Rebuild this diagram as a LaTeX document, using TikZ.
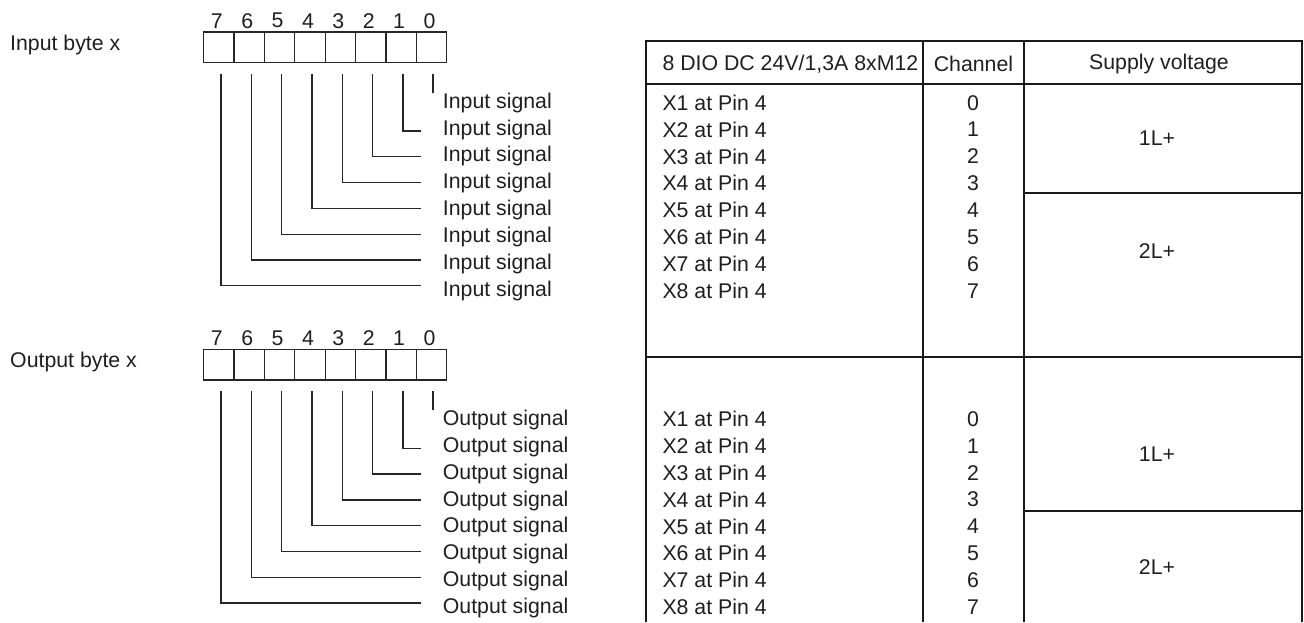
\documentclass[tikz,border=0pt]{standalone}
\usepackage{fontspec}
\setmainfont{Liberation Sans}
\begin{document}
\begin{tikzpicture}[x=1pt,y=-1pt,
  txt/.style={font=\fontsize{21.3}{24}\selectfont, inner sep=0pt, text=black!88},
  cell/.style={draw=black!85, line width=1.3pt, minimum width=30.375pt, minimum height=30.6pt, inner sep=0pt, outer sep=0pt},
  wire/.style={draw=black!85, line width=1.3pt},
  tab/.style={draw=black!90, line width=2pt}]
\useasboundingbox (0,0) rectangle (1304,622);
% ---- bit bytes and signals ----
\foreach \dy/\nm/\lab/\sig in {0/I/Input byte x/Input signal, 317.3/O/Output byte x/Output signal}{
  \node[txt, anchor=west] (lab\nm) at (10, 45+\dy) {\lab};
  \foreach \b in {0,...,7}{
    \pgfmathsetmacro\cx{203.7+30.375*(7-\b)+15.19}
    \pgfmathsetmacro\nx{\cx-2}
    \pgfmathsetmacro\sy{102.7+26.86*\b+\dy}
    \pgfmathsetmacro\ey{131+25.8*(\b-1)+\dy}
    \pgfmathsetmacro\cy{47.4+\dy}
    \pgfmathsetmacro\ny{20.7+\dy}
    \node[cell] (cell\nm\b) at (\cx, \cy) {};
    \node[txt] (num\nm\b) at (\nx, \ny) {\b};
    \node[txt, anchor=west] (sig\nm\b) at (442.7, \sy) {\sig};
    \coordinate (end\nm\b) at (420.7, \ey);
  }
  \draw[wire] ([xshift=1.5pt,yshift=-11.2pt]cell\nm0.south) -- ++(0,18.7);
  \foreach \b in {1,...,7}{
    \draw[wire] ([xshift=2pt,yshift=-11.2pt]cell\nm\b.south) |- (end\nm\b);
  }
}
% ---- table ----
\draw[tab] (645.5,622) -- (645.5,40.7) -- (1301.5,40.7) -- (1301.5,622);
\draw[tab] (923.3,40.7) -- (923.3,622);
\draw[tab] (1024,40.7) -- (1024,622);
\draw[tab] (645.5,84) -- (1301.5,84);
\draw[tab] (645.5,356.7) -- (1301.5,356.7);
\draw[tab] (1024,193.3) -- (1301.5,193.3);
\draw[tab] (1024,510.7) -- (1301.5,510.7);
\node[txt, anchor=west] (hmod) at (662.3,64) {8 DIO DC 24V/1,3A 8xM12};
\node[txt] (hch) at (973.5,64) {Channel};
\node[txt] (hsv) at (1159,64) {Supply voltage};
\foreach \dy/\nm in {0/T, 316.3/U}{
  \foreach \b in {0,...,7}{
    \pgfmathtruncatemacro\xn{\b+1}
    \pgfmathsetmacro\sy{102.7+26.86*\b+\dy}
    \node[txt, anchor=west] (x\nm\b) at (662.3, \sy) {X\xn{} at Pin 4};
    \node[txt] (ch\nm\b) at (973, \sy) {\b};
  }
  \pgfmathsetmacro\ya{138.3+\dy}
  \pgfmathsetmacro\yb{250.7+\dy}
  \node[txt] (la\nm) at (1157, \ya) {1L+};
  \node[txt] (lb\nm) at (1157, \yb) {2L+};
}
\end{tikzpicture}
\end{document}
